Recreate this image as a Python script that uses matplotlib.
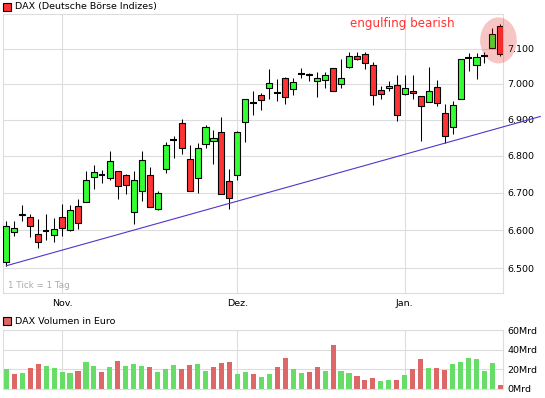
import numpy as np
import pandas as pd
import matplotlib
matplotlib.use("Agg")
import matplotlib.pyplot as plt
from matplotlib.patches import Rectangle, Ellipse
from matplotlib.transforms import IdentityTransform
from matplotlib.ticker import FixedLocator, FuncFormatter, NullLocator

# Handelstage Xetra, 21.10.2010 - 19.01.2011 (24.12. und 31.12. geschlossen)
feiertage = ["2010-12-24", "2010-12-31"]
tage = pd.bdate_range("2010-10-21", "2011-01-19")
tage = tage[~tage.isin(pd.to_datetime(feiertage))]

opens = [6515, 6594, 6644, 6634, 6591, 6598, 6586, 6636, 6599, 6665,
         6676, 6744, 6747, 6741, 6760, 6747, 6649, 6705, 6749, 6657,
         6765, 6845, 6891, 6793, 6741, 6834, 6841, 6866, 6733, 6749,
         6894, 6947, 6969, 6989, 6975, 7017, 6986, 7028, 7029, 7008,
         7011, 7044, 7000, 7047, 7078, 7085, 7055, 6983, 6989, 6997,
         6972, 6980, 6966, 6949, 6992, 6919, 6880, 6958, 7074, 7055,
         7079, 7101, 7165]
highs = [6624, 6624, 6668, 6644, 6629, 6644, 6632, 6671, 6668, 6682,
         6758, 6775, 6761, 6813, 6760, 6750, 6758, 6813, 6771, 6705,
         6837, 6854, 6903, 6829, 6835, 6885, 6872, 6908, 6764, 6870,
         6958, 6979, 6974, 7043, 7014, 7021, 7018, 7046, 7032, 7033,
         7035, 7044, 7070, 7090, 7090, 7090, 7061, 6994, 7008, 7025,
         7025, 7025, 6966, 7049, 7011, 6944, 6952, 7072, 7087, 7087,
         7090, 7159, 7170]
lows = [6506, 6585, 6625, 6581, 6553, 6574, 6569, 6584, 6598, 6603,
        6676, 6710, 6726, 6734, 6683, 6698, 6617, 6678, 6662, 6653,
        6753, 6795, 6805, 6705, 6699, 6822, 6778, 6697, 6656, 6734,
        6837, 6912, 6927, 6959, 6953, 6945, 6970, 7016, 7009, 6962,
        6990, 6979, 6990, 7044, 7068, 7042, 6940, 6957, 6979, 6896,
        6968, 6958, 6841, 6949, 6937, 6835, 6860, 6958, 7038, 7014,
        7058, 7101, 7078]
closes = [6610, 6605, 6639, 6611, 6568, 6598, 6602, 6605, 6654, 6618,
          6735, 6755, 6747, 6787, 6719, 6722, 6735, 6790, 6662, 6700,
          6831, 6845, 6823, 6705, 6823, 6880, 6850, 6697, 6686, 6866,
          6958, 6947, 6955, 7003, 6975, 6963, 7006, 7028, 7026, 7017,
          7025, 6981, 7017, 7078, 7070, 7058, 6969, 6972, 6994, 6913,
          6989, 6975, 6938, 6980, 6947, 6855, 6941, 7070, 7074, 7077,
          7079, 7143, 7084]
# Umsatz in Mrd Euro
volumen = [20.2, 15.2, 16.2, 21.2, 25.2, 23.2, 21.2, 17.2, 16.2, 18.2,
           27.2, 23.2, 17.2, 22.2, 28.2, 23.2, 25.2, 23.2, 22.2, 17.2,
           20.2, 24.2, 20.2, 24.2, 25.2, 18.2, 22.2, 26.2, 27.2, 15.2,
           17.2, 15.2, 12.2, 15.2, 22.2, 32.0, 20.2, 16.2, 17.2, 22.2,
           18.2, 45.2, 18.2, 16.2, 13.2, 9.2, 11.2, 8.2, 9.2, 9.2,
           14.2, 20.2, 30.2, 21.2, 21.2, 19.2, 25.2, 27.2, 31.2, 30.2,
           18.2, 26.2, 4.2]

kurs_ticks = [6500, 6600, 6700, 6800, 6900, 7000, 7100]
vol_ticks = [0, 20, 40, 60]
monate = {10: "Okt.", 11: "Nov.", 12: "Dez.", 1: "Jan."}
trend_punkte = [0, 55]   # Trendlinie durch die Tiefs dieser Tage

gruen = "#33ff33"
rot = "#ff3333"
vol_gruen = "#66dd66"
vol_rot = "#dd6666"
gitter = "#dddddd"

n = len(tage)
x = np.arange(n)

fig = plt.figure(figsize=(5.45, 3.98), dpi=100)
W, H = 545, 398
ax = fig.add_axes([3 / W, 1 - 293 / H, 500.3 / W, 279 / H])
axv = fig.add_axes([3 / W, 1 - 389 / H, 500.3 / W, 59 / H])

# Monatsanfaenge fuer die x-Achse
monat_pos = [i for i in range(1, n) if tage[i].month != tage[i - 1].month]
monat_lab = [monate[tage[i].month] for i in monat_pos]

# --- Kerzen ---
for i in range(n):
    o, h, l, c = opens[i], highs[i], lows[i], closes[i]
    ax.vlines(i, l, h, color="black", lw=0.75, zorder=2)
    if o == c:
        ax.hlines(c, i - 0.42, i + 0.42, color="black", lw=1.5, zorder=3)
    else:
        farbe = gruen if c > o else rot
        ax.add_patch(Rectangle((i - 0.38, min(o, c)), 0.76, abs(c - o),
                               facecolor=farbe, edgecolor="black", lw=0.8, zorder=3))

ax.set_yscale("log")
ax.set_xlim(-0.41, 62.36)
ax.set_ylim(6435, 7200)
ax.yaxis.set_major_locator(FixedLocator(kurs_ticks))
ax.yaxis.set_minor_locator(NullLocator())
ax.yaxis.set_major_formatter(FuncFormatter(lambda v, p: f"{v:,.0f}".replace(",", ".")))
ax.yaxis.tick_right()
ax.set_xticks(monat_pos)
ax.set_xticklabels(monat_lab)
ax.tick_params(axis="both", length=0, labelsize=6.8)
ax.tick_params(axis="y", pad=3)
ax.tick_params(axis="x", pad=4)
ax.grid(True, color=gitter, lw=0.8)
ax.set_axisbelow(True)
for s in ax.spines.values():
    s.set_color(gitter)
    s.set_linewidth(0.8)

# Trendlinie (logarithmisch gerade), nach rechts verlaengert
a, b = trend_punkte
p0, p1 = lows[a], lows[b]
x_end = 67
p_end = p0 * (p1 / p0) ** ((x_end - a) / (b - a))
ax.plot([a, x_end], [p0, p_end], color="#5533cc", lw=0.8, clip_on=False, zorder=4)

ax.text(0.01, 0.012, "1 Tick = 1 Tag", transform=ax.transAxes, color="#aaaaaa",
        fontsize=6.3, ha="left", va="bottom")
ax.text(0.799, 0.952, "engulfing bearish", transform=ax.transAxes, color=rot,
        fontsize=8.6, ha="center", va="baseline")

# Kreis um die letzten beiden Kerzen
fig.canvas.draw()
td = ax.transData
cx = td.transform((n - 1.5, highs[-1]))[0] + 2
y_top = td.transform((0, max(highs[-2:])))[1]
y_bot = td.transform((0, min(lows[-2:])))[1]
dx = td.transform((1, 7000))[0] - td.transform((0, 7000))[0]
ell = Ellipse((cx, (y_top + y_bot) / 2), 4.6 * dx, (y_top - y_bot) + 14,
              transform=IdentityTransform(), facecolor=(0.9, 0.1, 0.1, 0.25),
              edgecolor="none", zorder=5)
fig.add_artist(ell)

# --- Volumen ---
vfarben = [vol_gruen if (closes[i] >= (closes[i - 1] if i > 0 else opens[i])) else vol_rot
           for i in range(n)]
axv.bar(x, volumen, width=0.64, color=vfarben, zorder=2)
axv.set_xlim(-0.41, 62.36)
axv.set_ylim(0, 60)
axv.set_yticks(vol_ticks)
axv.set_yticklabels([f"{v}Mrd" for v in vol_ticks])
axv.yaxis.tick_right()
axv.set_xticks(monat_pos)
axv.tick_params(axis="both", length=0, labelsize=6.8, labelbottom=False)
axv.tick_params(axis="y", pad=3)
axv.grid(True, color=gitter, lw=0.8)
axv.set_axisbelow(True)
for s in axv.spines.values():
    s.set_color(gitter)
    s.set_linewidth(0.8)

# Legenden oben links
fig.add_artist(Rectangle((3.3 / W, 1 - 10.7 / H), 7.5 / W, 7.5 / H, transform=fig.transFigure,
                         facecolor=rot, edgecolor="black", lw=0.8))
fig.text(15 / W, 1 - 6.5 / H, "DAX (Deutsche Börse Indizes)", fontsize=6.8, va="center")
fig.add_artist(Rectangle((3.3 / W, 1 - 325 / H), 7.7 / W, 7.7 / H, transform=fig.transFigure,
                         facecolor=vol_rot, edgecolor="black", lw=0.8))
fig.text(15 / W, 1 - 321 / H, "DAX Volumen in Euro", fontsize=6.8, va="center")

fig.savefig("out.png", dpi=100)
